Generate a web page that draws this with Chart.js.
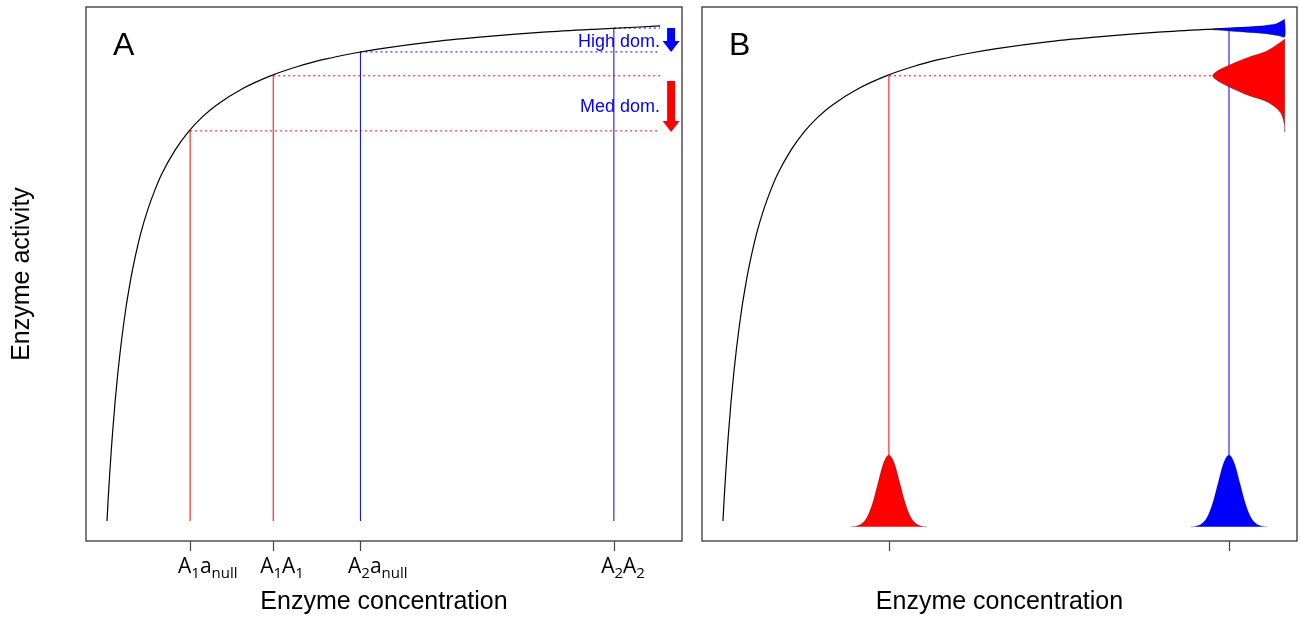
<!DOCTYPE html>
<html>
<head>
<meta charset="utf-8">
<script src="https://cdn.jsdelivr.net/npm/chart.js@4.4.1/dist/chart.umd.min.js"></script>
<style>
  body { margin: 0; background: #fff; }
  .panel { position: absolute; top: 0; }
  #wrapA { left: 0; width: 692px; height: 618px; }
  #wrapB { left: 692px; width: 609px; height: 618px; }
</style>
</head>
<body>
<div class="panel" id="wrapA"><canvas id="chartA" width="692" height="618"></canvas></div>
<div class="panel" id="wrapB"><canvas id="chartB" width="609" height="618"></canvas></div>
<script>
// Activity curve (enzyme concentration -> activity)
const conc =     [0, 0.05, 0.1, 0.15, 0.2, 0.3, 0.4, 0.5, 0.6, 0.7, 0.8, 0.9, 1, 1.25, 1.5, 1.75, 2, 2.5, 3, 3.5, 4, 5, 6, 7, 8, 9, 10, 12, 14, 16, 18, 20.3];
const activity = [0, 0.048, 0.091, 0.130, 0.167, 0.231, 0.286, 0.333, 0.375, 0.412, 0.444, 0.474, 0.5, 0.556, 0.6, 0.636, 0.667, 0.714, 0.75, 0.778, 0.8, 0.833, 0.857, 0.875, 0.889, 0.9, 0.909, 0.923, 0.933, 0.941, 0.947, 0.953];

// Panel A genotypes
const genoLabels = ['A_{1}a_{null}', 'A_{1}A_{1}', 'A_{2}a_{null}', 'A_{2}A_{2}'];
const genoAllele = ['A1', 'A1', 'A2', 'A2'];
const genoConc = [3.05, 6.1, 9.3, 18.6];
const genoActivity = [0.751, 0.857, 0.903, 0.949];
const dottedEnd = 20.3;

// dominance arrows and notes (panel A)
const noteText = ['High dom.', 'Med dom.'];
const noteConc = [20.29, 20.29];
const noteActivity = [0.922, 0.797];
const arrowAllele = ['A2', 'A1'];
const arrowConc = [20.7, 20.7];
const arrowFrom = [0.949, 0.847];
const arrowTo = [0.903, 0.749];

// Panel B: two genotypes with spread
const bConc = [6.1, 18.6];
const bActivity = [0.857, 0.949];
const bAllele = ['A1', 'A2'];
const spreadBase = -0.011;
const spreadOffset =   [-1.4, -1.2, -1.0, -0.8, -0.6, -0.4, -0.2, 0, 0.2, 0.4, 0.6, 0.8, 1.0, 1.2, 1.4];
const spreadActivity = [-0.0112, -0.0100, -0.0054, 0.0072, 0.0335, 0.0725, 0.1107, 0.127, 0.1107, 0.0725, 0.0335, 0.0072, -0.0054, -0.0100, -0.0112];
const redDottedEnd = 18.0;
const redSideConc = [20.65, 20.43, 19.96, 19.33, 18.71, 18.23, 18.0, 18.23, 18.71, 19.33, 19.96, 20.36, 20.54, 20.64, 20.65, 20.65];
const redSideAct =  [0.928, 0.919, 0.904, 0.893, 0.880, 0.868, 0.857, 0.846, 0.833, 0.819, 0.808, 0.794, 0.782, 0.762, 0.749, 0.928];
const blueSideConc = [20.65, 20.31, 19.33, 18.23, 17.98, 18.71, 19.96, 20.43, 20.65, 20.65];
const blueSideAct =  [0.966, 0.957, 0.951, 0.948, 0.946, 0.943, 0.938, 0.934, 0.932, 0.966];

const colorOf = { A1: '#ff0000', A2: '#0000ff' };
const noteColor = '#0000ff';

function pts(xs, ys) { return xs.map((x, i) => ({ x: x, y: ys[i] })); }

function line(data, color, extra) {
    return Object.assign({
        data: data, borderColor: color, borderWidth: 1, pointRadius: 0,
        showLine: true, fill: false, order: 3
    }, extra || {});
}

function parseLabel(s) {
    const parts = [];
    const re = /_\{([^}]*)\}|([^_]+)/g;
    let m;
    while ((m = re.exec(s))) parts.push(m[1] !== undefined ? { t: m[1], sub: true } : { t: m[2], sub: false });
    return parts;
}

// box, ticks, labels, titles, notes and arrows
const decor = {
    id: 'decor',
    afterDraw(chart, args, opts) {
        const { ctx, chartArea: ca, scales: { x, y } } = chart;
        ctx.save();
        ctx.strokeStyle = '#444';
        ctx.lineWidth = 1.4;
        ctx.strokeRect(ca.left, ca.top, ca.right - ca.left, ca.bottom - ca.top);

        opts.ticks.forEach((v, i) => {
            const px = Math.round(x.getPixelForValue(v)) + 0.5;
            ctx.strokeStyle = '#444';
            ctx.lineWidth = 1.2;
            ctx.beginPath(); ctx.moveTo(px, ca.bottom); ctx.lineTo(px, ca.bottom + 10); ctx.stroke();
            if (opts.labels) {
                const parts = parseLabel(opts.labels[i]);
                let mainW = 0;
                parts.forEach(p => {
                    ctx.font = (p.sub ? '15px' : '21px') + ' "Open Sans"';
                    p.w = ctx.measureText(p.t).width;
                    if (!p.sub) mainW += p.w;
                });
                // centred on the full-size letters, as the original does
                let cx = px - mainW / 2;
                ctx.fillStyle = '#000';
                ctx.textAlign = 'left';
                ctx.textBaseline = 'alphabetic';
                parts.forEach(p => {
                    ctx.font = (p.sub ? '15px' : '21px') + ' "Open Sans"';
                    ctx.fillText(p.t, cx, ca.bottom + 32 + (p.sub ? 5 : 0));
                    cx += p.w;
                });
            }
        });

        ctx.fillStyle = '#000';
        ctx.font = '25px "Liberation Sans"';
        ctx.textAlign = 'center';
        ctx.textBaseline = 'middle';
        ctx.fillText(opts.xTitle, (ca.left + ca.right) / 2, ca.bottom + 61);
        if (opts.yTitle) {
            ctx.save();
            ctx.translate(22, (ca.top + ca.bottom) / 2);
            ctx.rotate(-Math.PI / 2);
            ctx.fillText(opts.yTitle, 0, 0);
            ctx.restore();
        }

        ctx.font = '32px "Liberation Sans"';
        ctx.textAlign = 'left';
        ctx.textBaseline = 'alphabetic';
        ctx.fillText(opts.letter, ca.left + 27, ca.top + 48);

        (opts.notes || []).forEach(n => {
            ctx.fillStyle = n.color;
            ctx.font = '18px "Liberation Sans"';
            ctx.textAlign = 'right';
            ctx.textBaseline = 'middle';
            ctx.fillText(n.text, x.getPixelForValue(n.c), y.getPixelForValue(n.a));
        });

        (opts.arrows || []).forEach(a => {
            const x0 = x.getPixelForValue(a.c);
            const y0 = y.getPixelForValue(a.from);
            const y1 = y.getPixelForValue(a.to);
            const hl = 11, sw = 4, hw = 8.5;
            ctx.fillStyle = a.color;
            ctx.beginPath();
            ctx.moveTo(x0 - sw, y0); ctx.lineTo(x0 + sw, y0);
            ctx.lineTo(x0 + sw, y1 - hl); ctx.lineTo(x0 + hw, y1 - hl);
            ctx.lineTo(x0, y1); ctx.lineTo(x0 - hw, y1 - hl);
            ctx.lineTo(x0 - sw, y1 - hl); ctx.closePath();
            ctx.fill();
        });
        ctx.restore();
    }
};

const scales = {
    x: { type: 'linear', min: -0.77, max: 21.1, display: false },
    y: { type: 'linear', min: -0.0385, max: 0.9895, display: false }
};

function baseOptions(padding, decorOpts) {
    return {
        responsive: false,
        animation: false,
        events: [],
        layout: { padding: padding },
        scales: scales,
        plugins: { legend: { display: false }, tooltip: { enabled: false }, decor: decorOpts }
    };
}

const curve = () => line(pts(conc, activity), '#000', { borderWidth: 1.2, cubicInterpolationMode: 'monotone', order: 2 });

// Panel A
const dsA = [curve()];
genoConc.forEach((c, i) => {
    const col = colorOf[genoAllele[i]];
    dsA.push(line([{ x: c, y: 0 }, { x: c, y: genoActivity[i] }], col));
    dsA.push(line([{ x: c, y: genoActivity[i] }, { x: dottedEnd, y: genoActivity[i] }], col, { borderDash: [2, 3] }));
});

new Chart(document.getElementById('chartA'), {
    type: 'scatter',
    data: { datasets: dsA },
    options: baseOptions({ left: 86, right: 10, top: 7, bottom: 77 }, {
        letter: 'A',
        ticks: genoConc,
        labels: genoLabels,
        xTitle: 'Enzyme concentration',
        yTitle: 'Enzyme activity',
        notes: noteText.map((t, i) => ({ text: t, color: noteColor, c: noteConc[i], a: noteActivity[i] })),
        arrows: arrowConc.map((c, i) => ({ c: c, from: arrowFrom[i], to: arrowTo[i], color: colorOf[arrowAllele[i]] }))
    }),
    plugins: [decor]
});

// Panel B
const dsB = [curve()];
bConc.forEach((c, i) => {
    const col = colorOf[bAllele[i]];
    dsB.push(line([{ x: c, y: spreadActivity[7] }, { x: c, y: bActivity[i] }], col));
    dsB.push(line(spreadOffset.map((o, k) => ({ x: c + o, y: spreadActivity[k] })), 'rgba(0,0,0,0.45)', {
        borderWidth: 0.7, backgroundColor: col, fill: { value: spreadBase }, cubicInterpolationMode: 'monotone', order: 0
    }));
});
dsB.push(line([{ x: bConc[0], y: bActivity[0] }, { x: redDottedEnd, y: bActivity[0] }], colorOf.A1, { borderDash: [2, 3] }));
dsB.push(line(pts(redSideConc, redSideAct), 'rgba(0,0,0,0.45)', { borderWidth: 0.7, backgroundColor: colorOf.A1, fill: 'shape', tension: 0.3, order: 0 }));
dsB.push(line(pts(blueSideConc, blueSideAct), 'rgba(0,0,0,0.45)', { borderWidth: 0.7, backgroundColor: colorOf.A2, fill: 'shape', tension: 0.3, order: 0 }));

new Chart(document.getElementById('chartB'), {
    type: 'scatter',
    data: { datasets: dsB },
    options: baseOptions({ left: 10, right: 4, top: 7, bottom: 77 }, {
        letter: 'B',
        ticks: bConc,
        xTitle: 'Enzyme concentration'
    }),
    plugins: [decor]
});
</script>
</body>
</html>
